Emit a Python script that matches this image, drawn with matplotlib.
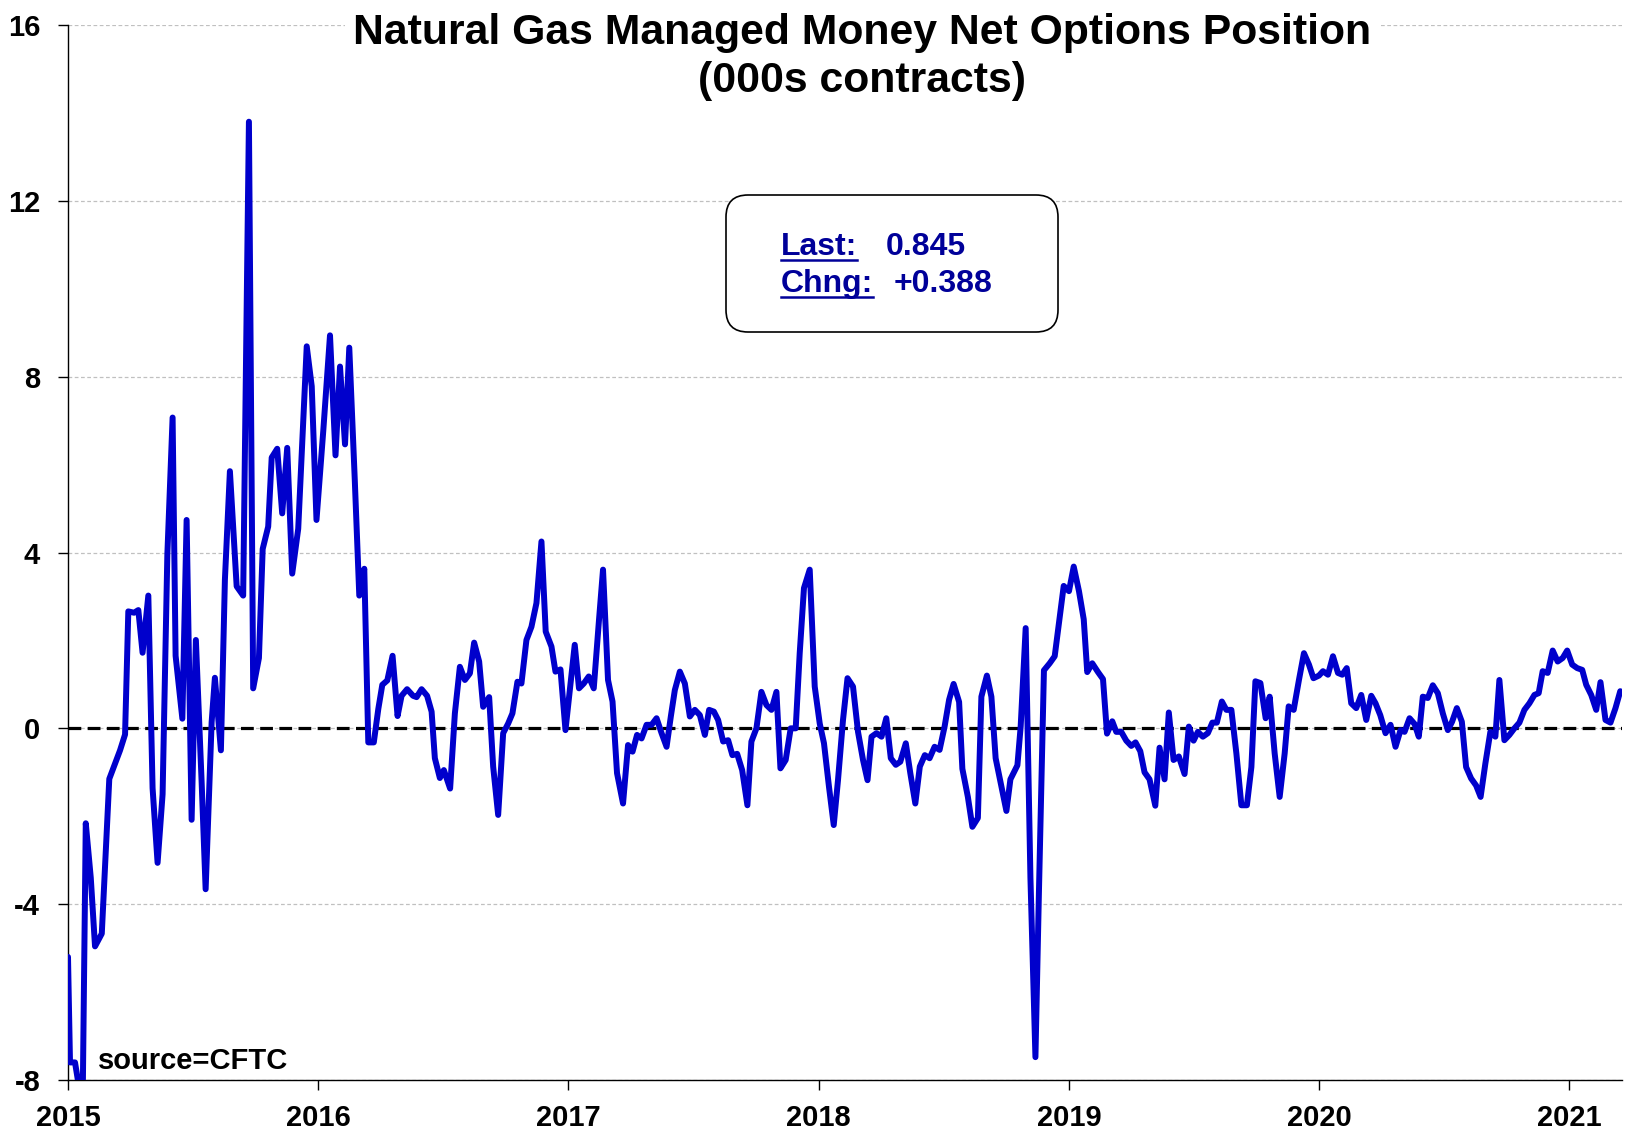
# Natural gas managed money net options position (CFTC), weekly, 000s contracts
import numpy as np
import matplotlib
matplotlib.use("Agg")
import matplotlib.pyplot as plt
from matplotlib.patches import FancyBboxPatch
from matplotlib.lines import Line2D
from matplotlib.transforms import IdentityTransform

plt.rcParams['font.family'] = ['Liberation Sans', 'DejaVu Sans']
plt.rcParams['font.weight'] = 'bold'
plt.rcParams['axes.unicode_minus'] = False

# time in decimal years, value in 000s contracts
t_year = [
    2015.000, 2015.008, 2015.028, 2015.048, 2015.059, 2015.071, 2015.091, 2015.108,
    2015.135, 2015.148, 2015.165, 2015.208, 2015.228, 2015.241, 2015.264, 2015.281,
    2015.298, 2015.321, 2015.338, 2015.358, 2015.378, 2015.397, 2015.418, 2015.430,
    2015.457, 2015.474, 2015.494, 2015.511, 2015.534, 2015.550, 2015.574, 2015.587,
    2015.611, 2015.627, 2015.647, 2015.674, 2015.700, 2015.723, 2015.740, 2015.763,
    2015.778, 2015.800, 2015.814, 2015.836, 2015.856, 2015.876, 2015.896, 2015.920,
    2015.954, 2015.974, 2015.993, 2016.020, 2016.047, 2016.069, 2016.087, 2016.107,
    2016.124, 2016.146, 2016.164, 2016.184, 2016.200, 2016.222, 2016.240, 2016.256,
    2016.276, 2016.297, 2016.317, 2016.333, 2016.355, 2016.379, 2016.393, 2016.413,
    2016.435, 2016.453, 2016.466, 2016.486, 2016.502, 2016.527, 2016.546, 2016.566,
    2016.586, 2016.606, 2016.623, 2016.643, 2016.659, 2016.683, 2016.699, 2016.719,
    2016.739, 2016.759, 2016.776, 2016.796, 2016.812, 2016.832, 2016.852, 2016.872,
    2016.892, 2016.909, 2016.932, 2016.948, 2016.968, 2016.988, 2017.008, 2017.025,
    2017.042, 2017.061, 2017.081, 2017.101, 2017.122, 2017.138, 2017.158, 2017.176,
    2017.194, 2017.218, 2017.238, 2017.256, 2017.274, 2017.292, 2017.312, 2017.332,
    2017.352, 2017.372, 2017.392, 2017.409, 2017.425, 2017.445, 2017.465, 2017.485,
    2017.505, 2017.525, 2017.545, 2017.562, 2017.581, 2017.598, 2017.618, 2017.638,
    2017.655, 2017.674, 2017.694, 2017.715, 2017.731, 2017.751, 2017.771, 2017.791,
    2017.811, 2017.831, 2017.847, 2017.868, 2017.888, 2017.908, 2017.924, 2017.941,
    2017.964, 2017.984, 2018.004, 2018.021, 2018.041, 2018.060, 2018.077, 2018.097,
    2018.115, 2018.137, 2018.157, 2018.177, 2018.195, 2018.211, 2018.231, 2018.251,
    2018.270, 2018.288, 2018.308, 2018.326, 2018.348, 2018.366, 2018.386, 2018.404,
    2018.424, 2018.443, 2018.463, 2018.483, 2018.503, 2018.521, 2018.539, 2018.561,
    2018.574, 2018.596, 2018.614, 2018.636, 2018.650, 2018.672, 2018.690, 2018.707,
    2018.730, 2018.750, 2018.766, 2018.794, 2018.807, 2018.827, 2018.846, 2018.866,
    2018.880, 2018.900, 2018.923, 2018.943, 2018.959, 2018.979, 2019.000, 2019.019,
    2019.040, 2019.059, 2019.073, 2019.093, 2019.116, 2019.136, 2019.152, 2019.173,
    2019.189, 2019.209, 2019.229, 2019.249, 2019.266, 2019.285, 2019.302, 2019.322,
    2019.345, 2019.362, 2019.382, 2019.399, 2019.418, 2019.439, 2019.462, 2019.479,
    2019.498, 2019.515, 2019.535, 2019.555, 2019.573, 2019.591, 2019.611, 2019.629,
    2019.649, 2019.669, 2019.689, 2019.711, 2019.729, 2019.745, 2019.765, 2019.786,
    2019.802, 2019.822, 2019.842, 2019.862, 2019.878, 2019.898, 2019.919, 2019.939,
    2019.959, 2019.977, 2019.999, 2020.015, 2020.035, 2020.055, 2020.075, 2020.092,
    2020.110, 2020.128, 2020.148, 2020.168, 2020.188, 2020.208, 2020.225, 2020.244,
    2020.265, 2020.285, 2020.305, 2020.325, 2020.341, 2020.361, 2020.381, 2020.398,
    2020.414, 2020.434, 2020.454, 2020.474, 2020.494, 2020.514, 2020.531, 2020.550,
    2020.570, 2020.587, 2020.607, 2020.627, 2020.645, 2020.664, 2020.684, 2020.704,
    2020.720, 2020.740, 2020.760, 2020.780, 2020.800, 2020.820, 2020.840, 2020.860,
    2020.877, 2020.893, 2020.913, 2020.933, 2020.953, 2020.973, 2020.991, 2021.011,
    2021.031, 2021.051, 2021.067, 2021.087, 2021.107, 2021.124, 2021.144, 2021.164,
    2021.184, 2021.203,
]
net_pos = [
    -5.20, -7.60, -7.60, -8.30, -8.30, -2.16, -3.40, -4.96,
    -4.67, -3.16, -1.15, -0.50, -0.14, 2.66, 2.63, 2.69,
    1.72, 3.02, -1.36, -3.06, -1.50, 3.95, 7.07, 1.65,
    0.22, 4.74, -2.08, 2.01, -1.22, -3.66, 0.14, 1.15,
    -0.50, 3.38, 5.85, 3.23, 3.02, 13.80, 0.91, 1.60,
    4.08, 4.59, 6.16, 6.36, 4.89, 6.38, 3.52, 4.54,
    8.69, 7.78, 4.74, 6.76, 8.94, 6.21, 8.23, 6.46,
    8.66, 5.65, 3.02, 3.63, -0.32, -0.32, 0.44, 0.99,
    1.09, 1.65, 0.28, 0.74, 0.89, 0.74, 0.71, 0.89,
    0.74, 0.38, -0.68, -1.13, -0.95, -1.37, 0.34, 1.40,
    1.10, 1.25, 1.95, 1.52, 0.49, 0.71, -0.87, -1.97,
    -0.11, 0.11, 0.34, 1.06, 1.02, 2.01, 2.31, 2.85,
    4.25, 2.20, 1.86, 1.29, 1.34, -0.04, 1.02, 1.90,
    0.91, 1.02, 1.18, 0.91, 2.47, 3.61, 1.10, 0.61,
    -1.02, -1.71, -0.38, -0.53, -0.15, -0.23, 0.08, 0.08,
    0.23, -0.11, -0.42, 0.27, 0.87, 1.29, 1.02, 0.27,
    0.42, 0.30, -0.15, 0.42, 0.38, 0.19, -0.30, -0.27,
    -0.61, -0.58, -0.95, -1.75, -0.30, 0.00, 0.83, 0.53,
    0.42, 0.83, -0.91, -0.72, 0.00, 0.00, 1.71, 3.19,
    3.61, 0.95, 0.11, -0.34, -1.33, -2.20, -1.18, 0.19,
    1.14, 0.95, -0.08, -0.72, -1.18, -0.19, -0.11, -0.19,
    0.23, -0.68, -0.83, -0.76, -0.34, -1.02, -1.71, -0.87,
    -0.61, -0.68, -0.42, -0.49, 0.04, 0.65, 1.01, 0.60,
    -0.92, -1.56, -2.24, -2.04, 0.72, 1.20, 0.72, -0.68,
    -1.32, -1.88, -1.16, -0.84, 0.04, 2.28, -3.40, -7.48,
    -3.72, 1.32, 1.48, 1.64, 2.36, 3.24, 3.12, 3.68,
    3.12, 2.48, 1.28, 1.48, 1.28, 1.12, -0.12, 0.16,
    -0.08, -0.08, -0.28, -0.40, -0.32, -0.52, -1.00, -1.16,
    -1.76, -0.44, -1.16, 0.36, -0.72, -0.64, -1.04, 0.04,
    -0.28, -0.08, -0.19, -0.11, 0.13, 0.13, 0.61, 0.42,
    0.42, -0.57, -1.75, -1.75, -0.88, 1.07, 1.03, 0.23,
    0.72, -0.57, -1.56, -0.57, 0.50, 0.42, 1.10, 1.71,
    1.45, 1.14, 1.20, 1.30, 1.22, 1.64, 1.26, 1.22,
    1.37, 0.57, 0.46, 0.76, 0.19, 0.74, 0.57, 0.30,
    -0.11, 0.08, -0.42, -0.04, -0.08, 0.23, 0.10, -0.19,
    0.72, 0.69, 0.98, 0.80, 0.34, -0.04, 0.15, 0.46,
    0.15, -0.88, -1.14, -1.30, -1.56, -0.80, -0.08, -0.19,
    1.10, -0.27, -0.15, 0.00, 0.13, 0.42, 0.57, 0.76,
    0.80, 1.30, 1.26, 1.77, 1.52, 1.60, 1.77, 1.45,
    1.37, 1.33, 0.99, 0.76, 0.42, 1.05, 0.19, 0.13,
    0.46, 0.845,
]

years = [2015, 2016, 2017, 2018, 2019, 2020, 2021]
year_labels = [str(y) for y in years]
y_ticks = [-8, -4, 0, 4, 8, 12, 16]
last_val = "0.845"
chng_val = "+0.388"

W, H = 1649, 1130
fig = plt.figure(figsize=(W / 100, H / 100), dpi=100)
ax = fig.add_axes([68 / W, 50 / H, (1622 - 68) / W, (1080 - 25) / H])

ax.set_yticks(y_ticks)
ax.yaxis.grid(True, color='#c0c0c0', linestyle=(0, (3, 2)), linewidth=0.9)
ax.set_axisbelow(True)
ax.axhline(0, color='black', linestyle=(0, (4, 2)), linewidth=2.3, zorder=2)
ax.plot(t_year, net_pos, color='#0000CC', linewidth=4.3, zorder=3,
        solid_joinstyle='round', solid_capstyle='round')

ax.set_xlim(2015, 2021.21)
ax.set_ylim(-8, 16)
ax.set_xticks(years)
ax.set_xticklabels(year_labels)
for s in ['top', 'right']:
    ax.spines[s].set_visible(False)
for s in ['left', 'bottom']:
    ax.spines[s].set_linewidth(1.0)
ax.tick_params(axis='both', direction='out', length=7, width=1.0,
               labelsize=21, colors='black')
ax.tick_params(axis='y', pad=13)
ax.tick_params(axis='x', pad=10)
for lb in ax.get_xticklabels() + ax.get_yticklabels():
    lb.set_fontweight('bold')

# title with white background that hides the top gridline
fig.text(862 / W, 1 - 57 / H,
         "Natural Gas Managed Money Net Options Position\n(000s contracts)",
         ha='center', va='center', fontsize=30.8, fontweight='bold',
         linespacing=1.27,
         bbox=dict(facecolor='white', edgecolor='none', pad=6))

ax.text(98 / W, 1 - 1069 / H, "source=CFTC", transform=fig.transFigure,
        fontsize=21, fontweight='bold', ha='left', va='baseline')

# rounded info box (pixel coordinates)
box = FancyBboxPatch((726, H - 332), 332, 137,
                     boxstyle='round,pad=0,rounding_size=22',
                     transform=IdentityTransform(), facecolor='white',
                     edgecolor='black', linewidth=1.2, zorder=5)
fig.patches.append(box)

navy = '#000099'
fs_box = 23
t1 = fig.text(781 / W, 1 - 255 / H, "Last:", color=navy, fontsize=fs_box,
              fontweight='bold', ha='left', va='baseline', zorder=6)
fig.text(886 / W, 1 - 255 / H, last_val, color=navy, fontsize=fs_box,
         fontweight='bold', ha='left', va='baseline', zorder=6)
t2 = fig.text(781 / W, 1 - 292 / H, "Chng:", color=navy, fontsize=fs_box,
              fontweight='bold', ha='left', va='baseline', zorder=6)
fig.text(894 / W, 1 - 292 / H, chng_val, color=navy, fontsize=fs_box,
         fontweight='bold', ha='left', va='baseline', zorder=6)

# underline the labels
fig.canvas.draw()
rend = fig.canvas.get_renderer()
for t, yb in [(t1, 255), (t2, 292)]:
    bb = t.get_window_extent(rend)
    yy = 1 - (yb + 5) / H
    fig.add_artist(Line2D([bb.x0 / W, bb.x1 / W], [yy, yy], color=navy,
                          linewidth=1.8, transform=fig.transFigure, zorder=6))

fig.savefig("out.png", dpi=100, facecolor='white')
